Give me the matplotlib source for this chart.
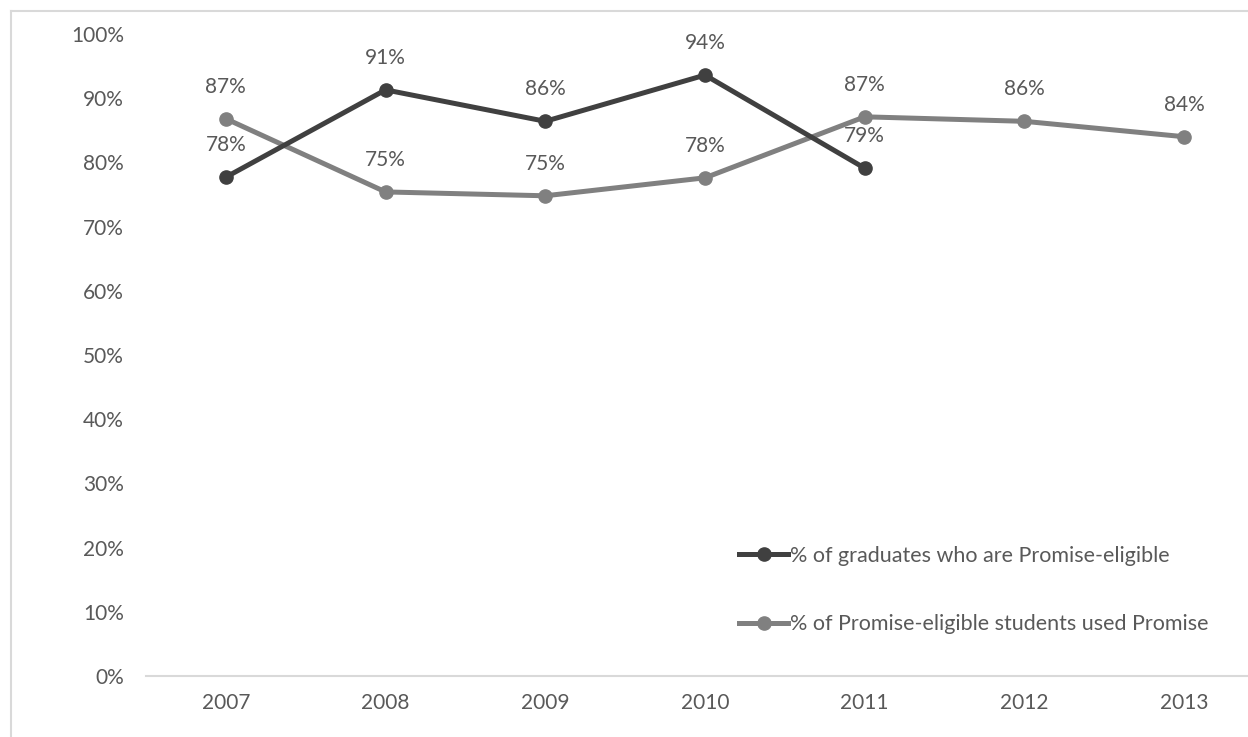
import matplotlib.pyplot as plt
from matplotlib.lines import Line2D

years = ['2007', '2008', '2009', '2010', '2011', '2012', '2013']
eligible = [77.7, 91.3, 86.4, 93.6, 79.1]
used = [86.8, 75.4, 74.8, 77.6, 87.1, 86.4, 84.0]
eligible_labels = ['78%', '91%', '86%', '94%', '79%']
used_labels = ['87%', '75%', '75%', '78%', '87%', '86%', '84%']

plt.rcParams['font.family'] = ['Lato', 'DejaVu Sans']
txt = '#595959'
dark = '#404040'
grey = '#808080'
fs = 15

W, H = 1248, 737
fig = plt.figure(figsize=(W / 100, H / 100), dpi=100)
ax = fig.add_axes([146 / W, 61 / H, (1264 - 146) / W, (676 - 34) / H])

# chart frame (cropped at right and bottom)
fig.add_artist(Line2D([11 / W, 11 / W], [0, 1 - 11 / H], transform=fig.transFigure, color='#d9d9d9', lw=1.5))
fig.add_artist(Line2D([11 / W, 1], [1 - 11 / H, 1 - 11 / H], transform=fig.transFigure, color='#d9d9d9', lw=1.5))

x1 = list(range(len(eligible)))
x2 = list(range(len(used)))
ax.plot(x1, eligible, '-o', color=dark, lw=3.6, markersize=9.5, label='% of graduates who are Promise-eligible', zorder=3)
ax.plot(x2, used, '-o', color=grey, lw=3.6, markersize=9.5, label='% of Promise-eligible students used Promise', zorder=2)

for x, v, s in zip(x1, eligible, eligible_labels):
    ax.annotate(s, (x, v), xytext=(0, 23), textcoords='offset points', ha='center', va='center', fontsize=fs, color=txt)
for x, v, s in zip(x2, used, used_labels):
    ax.annotate(s, (x, v), xytext=(0, 23), textcoords='offset points', ha='center', va='center', fontsize=fs, color=txt)

ax.set_xlim(-0.5, 6.5)
ax.set_ylim(0, 100)
ax.set_xticks(range(len(years)))
ax.set_xticklabels(years)
ax.set_yticks(range(0, 101, 10))
ax.set_yticklabels([f'{v}%' for v in range(0, 101, 10)])
ax.tick_params(axis='both', length=0, labelsize=fs, labelcolor=txt)
ax.tick_params(axis='y', pad=16)
ax.tick_params(axis='x', pad=12)
for side in ['top', 'right', 'left']:
    ax.spines[side].set_visible(False)
ax.spines['bottom'].set_color('#d9d9d9')
ax.spines['bottom'].set_linewidth(1.5)
ax.set_facecolor('none')

leg = ax.legend(loc='upper left', bbox_to_anchor=(728 / W, 1 - 535 / H), bbox_transform=fig.transFigure,
                frameon=False, fontsize=fs + 0.5, handlelength=2.3, handletextpad=0.1, labelspacing=2.25,
                numpoints=1, borderpad=0)
for t in leg.get_texts():
    t.set_color(txt)

fig.savefig('out.png', dpi=100)
